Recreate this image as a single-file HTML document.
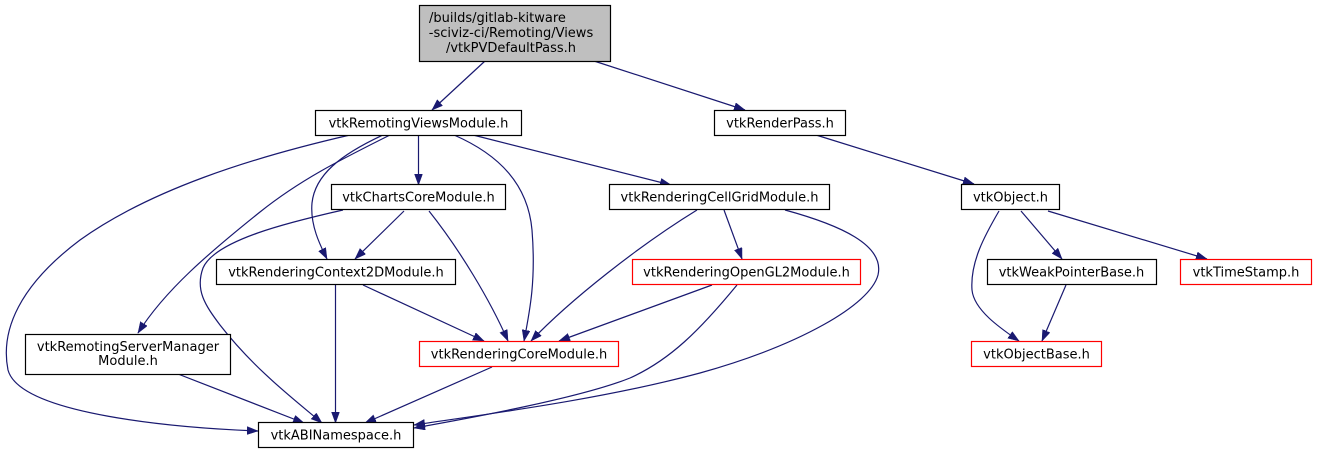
<!DOCTYPE html>
<html><head><meta charset="utf-8"><style>
html,body{margin:0;padding:0;background:#fff;}
svg{display:block;}
text{font-family:"DejaVu Sans","Liberation Sans",sans-serif;font-size:13px;fill:#000;}
.n{fill:#fff;stroke:#000;stroke-width:1.2;}
.r{fill:#fff;stroke:#f00;stroke-width:1.2;}
.e{fill:none;stroke:#191970;stroke-width:1.2;marker-end:url(#a);}
</style></head><body>
<svg width="1317" height="455" viewBox="0 0 1317 455" xmlns="http://www.w3.org/2000/svg">
<defs>
<marker id="a" markerUnits="userSpaceOnUse" markerWidth="12" markerHeight="9" refX="11" refY="4" orient="auto">
<path d="M0,0 L11,4 L0,8 z" fill="#191970" stroke="#191970" stroke-width="0.5"/>
</marker>
</defs>

<!-- edges -->
<path class="e" d="M485,61 L432,110"/>
<path class="e" d="M594,61 L745,110"/>
<path class="e" d="M350,135 C250,158 150,190 80,240 C20,285 0,330 8,370 C20,415 180,428 258,431"/>
<path class="e" d="M390,135 C340,160 300,180 260,212 C210,252 165,290 138,333"/>
<path class="e" d="M383,135 C340,155 315,175 312,203 C310,225 320,245 327,259"/>
<path class="e" d="M418.5,135 L418.5,185"/>
<path class="e" d="M454,135 C500,155 528,185 532,230 C536,280 530,310 524,341"/>
<path class="e" d="M473,135 L671,185"/>
<path class="e" d="M816,135 L974,184"/>
<path class="e" d="M343,210 C290,222 215,240 203,268 C195,290 205,305 220,325 C255,370 295,400 322,423"/>
<path class="e" d="M404,211 L355,259"/>
<path class="e" d="M429,211 C460,250 490,300 508,341"/>
<path class="e" d="M697,210 C640,245 570,300 531,341"/>
<path class="e" d="M724,210 L742,259"/>
<path class="e" d="M785,210 C840,225 885,245 878,275 C870,305 800,345 700,373 C600,400 480,415 414,425"/>
<path class="e" d="M737,285 C700,330 670,360 630,378 C580,398 470,418 414,428"/>
<path class="e" d="M335.5,285 L335.5,423"/>
<path class="e" d="M363,285 L484,341"/>
<path class="e" d="M712,285 L559,341"/>
<path class="e" d="M178,374 L304,423"/>
<path class="e" d="M492,367 L365,423"/>
<path class="e" d="M999,211 C985,235 970,262 972,290 C974,310 1000,328 1019,341"/>
<path class="e" d="M1021,211 L1062,259"/>
<path class="e" d="M1048,211 L1207,259"/>
<path class="e" d="M1066,285 L1042,341"/>

<!-- nodes -->
<rect x="419.5" y="5.5" width="191" height="56" fill="#bfbfbf" stroke="#000" stroke-width="1.2"/>
<text x="429" y="22">/builds/gitlab-kitware</text>
<text x="511" y="37" text-anchor="middle">-sciviz-ci/Remoting/Views</text>
<text x="511" y="52" text-anchor="middle">/vtkPVDefaultPass.h</text>

<rect class="n" x="315.5" y="110.5" width="206" height="25"/>
<text x="418.5" y="127.5" text-anchor="middle">vtkRemotingViewsModule.h</text>

<rect class="n" x="714.5" y="110.5" width="131" height="25"/>
<text x="780" y="127.5" text-anchor="middle">vtkRenderPass.h</text>

<rect class="n" x="331.5" y="184.5" width="174" height="25"/>
<text x="418.5" y="201.5" text-anchor="middle">vtkChartsCoreModule.h</text>

<rect class="n" x="609.5" y="184.5" width="220" height="25"/>
<text x="719.5" y="201.5" text-anchor="middle">vtkRenderingCellGridModule.h</text>

<rect class="n" x="961.5" y="184.5" width="98" height="25"/>
<text x="1010.5" y="201.5" text-anchor="middle">vtkObject.h</text>

<rect class="n" x="216.5" y="259.5" width="239" height="25"/>
<text x="336" y="276.5" text-anchor="middle">vtkRenderingContext2DModule.h</text>

<rect class="r" x="632.5" y="259.5" width="228" height="25"/>
<text x="746.5" y="276.5" text-anchor="middle">vtkRenderingOpenGL2Module.h</text>

<rect class="n" x="987.5" y="259.5" width="169" height="25"/>
<text x="1071.5" y="276.5" text-anchor="middle">vtkWeakPointerBase.h</text>

<rect class="r" x="1180.5" y="259.5" width="131" height="25"/>
<text x="1246" y="276.5" text-anchor="middle">vtkTimeStamp.h</text>

<rect class="n" x="25.5" y="334.5" width="205" height="40"/>
<text x="128" y="351" text-anchor="middle">vtkRemotingServerManager</text>
<text x="128" y="365" text-anchor="middle">Module.h</text>

<rect class="r" x="419.5" y="341.5" width="199" height="25"/>
<text x="519" y="358.5" text-anchor="middle">vtkRenderingCoreModule.h</text>

<rect class="r" x="971.5" y="341.5" width="130" height="25"/>
<text x="1036.5" y="358.5" text-anchor="middle">vtkObjectBase.h</text>

<rect class="n" x="258.5" y="422.5" width="155" height="25"/>
<text x="336" y="439.5" text-anchor="middle">vtkABINamespace.h</text>
</svg>
</body></html>
